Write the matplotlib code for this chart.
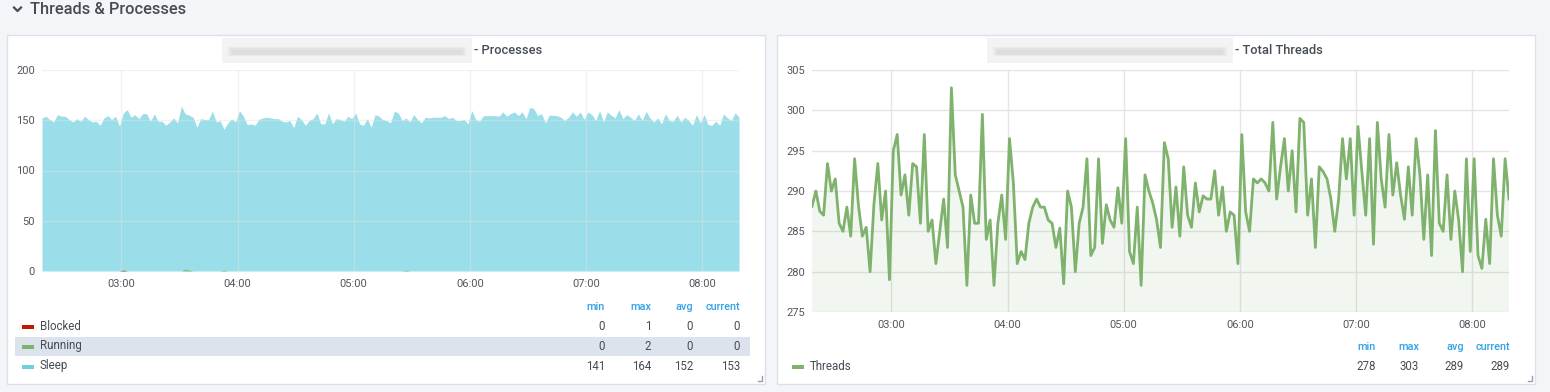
import numpy as np
import matplotlib
matplotlib.use("Agg")
import matplotlib.pyplot as plt
import matplotlib.dates as mdates
from matplotlib.patches import Rectangle
from matplotlib.lines import Line2D
from datetime import datetime, timedelta

plt.rcParams['font.family'] = ['Roboto', 'DejaVu Sans']

# --- data (2 min resolution) ---
start_time = datetime(2024, 1, 1, 2, 19)
step_min = 2

sleep = [152.3, 154, 150.7, 148.3, 155.6, 154, 154, 150.7, 148.3, 151.6,
         149, 154, 150.7, 148.3, 149, 145, 152.3, 154.6, 150.7, 154,
         144, 157.3, 160.6, 153, 155.6, 151.6, 156.6, 156.6, 149, 156.3,
         149, 149, 145, 148.3, 152.3, 147.4, 164, 156.3, 155, 153,
         143, 151.6, 150.7, 150.7, 159, 148.3, 149.7, 141, 147.4, 151.3,
         148.3, 159.6, 154, 145.7, 146.4, 145, 150.7, 152.3, 153, 152.3,
         151.6, 151.6, 149, 148.3, 149.7, 142.4, 154, 150.7, 145, 149.7,
         151.6, 157.3, 146.4, 146.4, 157.3, 146.4, 151.6, 150.7, 149, 154,
         151.6, 157.3, 146.4, 145, 151.6, 143, 155.6, 154, 150.7, 149.7,
         147.4, 159, 157.3,
         149.7, 152.3, 148.3, 155.6, 150.7, 147.4, 153, 152.3, 153, 153,
         153, 154.6, 151.6, 153, 149.7, 149.7, 150.7, 146.4, 159.6, 150.7,
         149, 154.6, 154.6, 154.6, 154.6, 154, 158.3, 154, 156.6, 158.3,
         154.6, 158.3, 151.6, 162.9, 161.5, 154.6, 156.6, 147.4, 155, 155,
         154.6, 153, 149.7, 153, 158.3, 154, 158.3, 150.7, 158.3, 155.6,
         149.7, 159.6, 148.3, 158.3, 155, 152.3, 160.6, 151.6, 155.6, 153,
         149.7, 156.3, 149.7, 159, 152.3, 148.3, 152.3, 146.4, 156.6, 149.7,
         149, 155, 148.3, 153, 149.7, 145, 155.6, 147.4, 155.6, 145.7,
         145, 149, 145, 156.3, 152.3, 149.7, 157.3, 153]

running = [0, 0, 0, 0, 0, 0, 0, 0, 0, 0, 0, 0, 0, 0, 0, 0, 0, 0, 0, 0,
           0, 1, 0, 0, 0, 0, 0, 0, 0, 0, 0, 0, 0, 0, 0, 0, 0, 2, 1, 0,
           0, 0, 0, 0, 0, 0, 0, 1, 0, 0, 0, 0, 0, 0, 0, 0, 0, 0, 0, 0,
           0, 0, 0, 0, 0, 0, 0, 0, 0, 0, 0, 0, 0, 0, 0, 0, 0, 0, 0, 0,
           0, 0, 0, 0, 0, 0, 0, 0, 0, 0, 0, 0, 0, 0, 1, 0, 0, 0, 0, 0,
           0, 0, 0, 0, 0, 0, 0, 0, 0, 0, 0, 0, 0, 0, 0, 0, 0, 0, 0, 0,
           0, 0, 0, 0, 0, 0, 0, 0, 0, 0, 0, 0, 0, 0, 0, 0, 0, 0, 0, 0,
           0, 0, 0, 0, 0, 0, 0, 0, 0, 0, 0, 0, 0, 0, 0, 0, 0, 0, 0, 0,
           0, 0, 0, 0, 0, 0, 0, 0, 0, 0, 0, 0, 0, 0, 0, 0, 0, 0, 0, 0,
           0]

blocked = [0, 0, 0, 0, 0, 0, 0, 0, 0, 0, 0, 0, 0, 0, 0, 0, 0, 0, 0, 0,
           0, 1, 0, 0, 0, 0, 0, 0, 0, 0, 0, 0, 0, 0, 0, 0, 0, 0, 0, 0,
           0, 0, 0, 0, 0, 0, 0, 0, 0, 0, 0, 0, 0, 0, 0, 0, 0, 0, 0, 0,
           0, 0, 0, 0, 0, 0, 0, 0, 0, 0, 0, 0, 0, 0, 0, 0, 0, 0, 0, 0,
           0, 0, 0, 0, 0, 0, 0, 0, 0, 0, 0, 0, 0, 0, 0, 0, 0, 0, 0, 0,
           0, 0, 0, 0, 0, 0, 0, 0, 0, 0, 0, 0, 0, 0, 0, 0, 0, 0, 0, 0,
           0, 0, 0, 0, 0, 0, 0, 0, 0, 0, 0, 0, 0, 0, 0, 0, 0, 0, 0, 0,
           0, 0, 0, 0, 0, 0, 0, 0, 0, 0, 0, 0, 0, 0, 0, 0, 0, 0, 0, 0,
           0, 0, 0, 0, 0, 0, 0, 0, 0, 0, 0, 0, 0, 0, 0, 0, 0, 0, 0, 0,
           0]

threads = [288.1, 290.0, 287.5, 287.0, 293.4, 290.0, 291.5, 286.0, 285.0, 288.0,
           284.4, 294.0, 288.2, 284.4, 285.5, 280.0, 288.4, 293.4, 286.4, 290.0,
           279.0, 295.0, 297.0, 289.5, 292.0, 287.0, 293.4, 293.0, 286.0, 297.0,
           285.0, 286.4, 281.0, 285.0, 289.0, 283.0, 302.8, 292.0, 290.0, 288.0,
           278.3, 289.5, 286.0, 286.0, 299.5, 284.0, 286.4, 278.3, 286.0, 289.5,
           284.0, 296.5, 291.0, 281.0, 282.5, 281.5, 286.0, 288.0, 289.0, 288.0,
           288.0, 286.4, 286.0, 283.0, 285.4, 278.5, 290.0, 288.0, 280.0, 286.0,
           288.0, 294.0, 282.0, 283.0, 294.0, 283.5, 288.3, 286.4, 285.5, 290.4,
           286.0, 296.5, 282.5, 281.0, 288.0, 278.3, 292.0, 290.0, 288.5, 286.4,
           283.0, 296.0, 294.0,
           285.5, 290.5, 284.4, 293, 287, 285.5, 291, 287.4, 289.4, 289,
           289, 292.5, 287, 290.5, 285, 287.4, 287, 281, 297, 287.4,
           285, 291.5, 291, 291.5, 291, 290, 298.5, 289, 293, 296.5,
           290, 295, 287.4, 299, 298.5, 287, 291.5, 283, 293, 292.4,
           291.5, 289, 285, 289, 296.5, 291.5, 296.5, 287, 298, 292.4,
           287, 296.5, 283.4, 298.5, 291.5, 288, 297, 289.5, 293.5, 289.5,
           286.5, 293, 287, 296.5, 292, 284, 292, 282, 297.5, 286,
           285, 292, 284, 290, 286.4, 280, 294, 282.5, 294, 282,
           280.4, 286.5, 281, 294, 287, 284.4, 294, 289]

proc_names = ["Blocked", "Running", "Sleep"]
proc_colors = ["#bf1b00", "#7eb26d", "#6ed0e0"]
thread_color = "#7eb26d"

W, H = 1550, 392
TXT = "#464c54"
TICK = "#52575e"
GRID = "#e4e4e4"
BLUE = "#33a2e5"


def fx(x):
    return x / W


def fy(y):
    return 1 - y / H


def times(n):
    return mdates.date2num([start_time + timedelta(minutes=step_min * i) for i in range(n)])


fig = plt.figure(figsize=(W / 100, H / 100), dpi=100, facecolor="#f4f5f8")

# section header
fig.add_artist(Line2D([fx(14), fx(17.5), fx(21)], [fy(7.5), fy(11), fy(7.5)],
                      color=TXT, lw=1.6, transform=fig.transFigure))
fig.text(fx(30), fy(9), "Threads & Processes", fontsize=11.8, color=TXT,
         fontweight="medium", va="center", ha="left")

# panels (behind the axes)
for x0, x1 in [(7, 765), (777, 1535)]:
    fig.add_artist(Rectangle((fx(x0), fy(384)), (x1 - x0) / W, (384 - 35) / H,
                             transform=fig.transFigure, fc="white", ec="#dce1e9", lw=1,
                             zorder=-2))
    # resize corner
    fig.add_artist(Line2D([fx(x1 - 7), fx(x1 - 3), fx(x1 - 3)], [fy(381), fy(381), fy(376)],
                          color="#9a9ea6", lw=1, transform=fig.transFigure))


def blurred(x0, x1):
    # hostname is blurred out in the reference
    fig.add_artist(Rectangle((fx(x0), fy(63)), (x1 - x0) / W, 25 / H,
                             transform=fig.transFigure, fc="#f3f3f4", ec="none", zorder=-1))
    for pad, a in [(3, 0.25), (5, 0.35), (7, 0.45)]:
        fig.add_artist(Rectangle((fx(x0 + pad + 3), fy(57 - pad / 3)), (x1 - x0 - 2 * pad - 6) / W,
                                 (12 - pad) / H, transform=fig.transFigure,
                                 fc="#d6d6d8", ec="none", alpha=a, zorder=-1))


blurred(222, 472)
fig.text(fx(474), fy(50), "- Processes", fontsize=9.3, color=TXT, fontweight="medium",
         va="center", ha="left")
blurred(987, 1233)
fig.text(fx(1235), fy(50), "- Total Threads", fontsize=9.3, color=TXT, fontweight="medium",
         va="center", ha="left")


def style_axes(ax, t):
    ax.set_facecolor("none")
    for s in ax.spines.values():
        s.set_visible(False)
    ax.grid(True, color=GRID, lw=1)
    ax.tick_params(length=0, colors=TICK, labelsize=8)
    ax.tick_params(axis="y", pad=5)
    ax.tick_params(axis="x", pad=6)
    ax.xaxis.set_major_locator(mdates.HourLocator())
    ax.xaxis.set_major_formatter(mdates.DateFormatter("%H:%M"))
    ax.set_xlim(t[0], t[-1])


# --- processes chart ---
ax1 = fig.add_axes([fx(42), fy(271), (739 - 42) / W, (271 - 70) / H])
t1 = times(len(sleep))
ax1.fill_between(t1, 0, sleep, color="#6ed0e0", alpha=0.7, lw=0, zorder=1)
ax1.fill_between(t1, 0, running, color="#7eb26d", alpha=0.8, lw=0, zorder=2)
ax1.fill_between(t1, 0, blocked, color="#bf1b00", alpha=0.5, lw=0, zorder=2)
ax1.set_ylim(0, 200)
ax1.set_yticks([0, 50, 100, 150, 200])
style_axes(ax1, t1)
ax1.set_axisbelow(False)
for gl in ax1.get_xgridlines() + ax1.get_ygridlines():
    gl.set_alpha(0.45)

# --- threads chart ---
ax2 = fig.add_axes([fx(812), fy(312), (1509 - 812) / W, (312 - 70) / H])
t2 = times(len(threads))
ax2.fill_between(t2, 0, threads, color=thread_color, alpha=0.1, lw=0)
ax2.plot(t2, threads, color=thread_color, lw=2)
ax2.set_ylim(275, 305)
ax2.set_yticks([275, 280, 285, 290, 295, 300, 305])
style_axes(ax2, t2)
ax2.set_axisbelow(True)


def stats(v):
    v = np.asarray(v, dtype=float)
    return [f"{v.min():.0f}", f"{v.max():.0f}", f"{v.mean():.0f}", f"{v[-1]:.0f}"]


# --- legends ---
heads = ["min", "max", "avg", "current"]
cols1 = [605, 651, 693, 740]
for h, c in zip(heads, cols1):
    fig.text(fx(c), fy(307), h, fontsize=7.8, color=BLUE, fontweight="medium",
             ha="right", va="center")
fig.add_artist(Rectangle((fx(15), fy(356)), (750 - 15) / W, 19 / H,
                         transform=fig.transFigure, fc="#dde3ed", ec="none", zorder=-1))
for i, (name, col, ser) in enumerate(zip(proc_names, proc_colors, [blocked, running, sleep])):
    y = 326 + 20 * i
    fig.add_artist(Rectangle((fx(22), fy(y + 2.5)), 12 / W, 4 / H,
                             transform=fig.transFigure, fc=col, ec="none"))
    fig.text(fx(40), fy(y), name, fontsize=8.3, color=TXT, ha="left", va="center")
    for val, c in zip(stats(ser), cols1):
        fig.text(fx(c), fy(y), val, fontsize=8.3, color=TXT, ha="right", va="center")

cols2 = [1376, 1419, 1464, 1510]
for h, c in zip(heads, cols2):
    fig.text(fx(c), fy(347), h, fontsize=7.8, color=BLUE, fontweight="medium",
             ha="right", va="center")
fig.add_artist(Rectangle((fx(792), fy(368.5)), 12 / W, 4 / H,
                         transform=fig.transFigure, fc=thread_color, ec="none"))
fig.text(fx(810), fy(366), "Threads", fontsize=8.3, color=TXT, ha="left", va="center")
for val, c in zip(stats(threads), cols2):
    fig.text(fx(c), fy(366), val, fontsize=8.3, color=TXT, ha="right", va="center")

fig.savefig("out.png", dpi=100, facecolor=fig.get_facecolor())
